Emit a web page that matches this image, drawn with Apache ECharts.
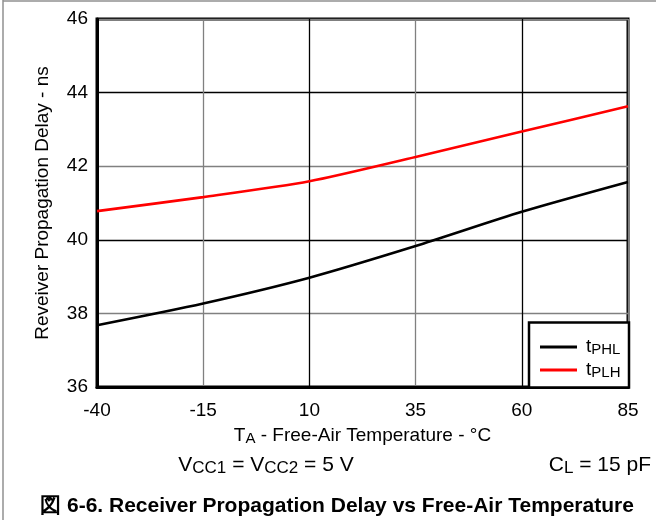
<!DOCTYPE html>
<html>
<head>
<meta charset="utf-8">
<script src="https://cdn.jsdelivr.net/npm/echarts@6/dist/echarts.min.js"></script>
<style>html,body{margin:0;padding:0;background:#fff}#c{width:656px;height:520px}</style>
</head>
<body>
<div id="c"></div>
<script>
const temps = ['-40', '-15', '10', '35', '60', '85'];
const tPHL = [37.68, 38.27, 38.97, 39.83, 40.76, 41.57];
const tPLH = [40.78, 41.16, 41.59, 42.25, 42.94, 43.63];
const yTicks = { min: 36, max: 46, step: 2 };
const seriesNames = ['tPHL', 'tPLH'];

const FONT = '"Liberation Sans", Arial, sans-serif';
const chart = echarts.init(document.getElementById('c'), null, { renderer: 'canvas' });
function subRich(main, small, drop) {
  return {
    a: { fontSize: main, fontFamily: FONT, color: '#000', verticalAlign: 'top', lineHeight: main + 1 },
    b: { fontSize: small, fontFamily: FONT, color: '#000', verticalAlign: 'bottom', lineHeight: small + 1, padding: [drop, 0, 0, 0] }
  };
}
chart.setOption({
  animation: false,
  backgroundColor: '#fff',
  grid: { left: 97, top: 19, width: 531, height: 368, show: true, borderColor: '#000', borderWidth: 3, containLabel: false },
  legend: {
    orient: 'vertical', left: 535, top: 329, itemWidth: 37, itemHeight: 3, itemGap: 0,
    icon: 'rect',
    data: seriesNames,
    formatter: n => '{a|t}{b|' + n.slice(1) + '}',
    textStyle: { rich: subRich(19, 15, 8), padding: [0, 0, 0, 4] }
  },
  xAxis: {
    type: 'category', data: temps, boundaryGap: false,
    name: '{a|T}{b|A}{a| - Free-Air Temperature - °C}', nameLocation: 'middle', nameGap: 35,
    nameTextStyle: { rich: subRich(19, 15, 6) },
    axisLine: { show: true, lineStyle: { color: '#000', width: 3 } },
    axisTick: { show: false },
    axisLabel: { interval: 0, margin: 14, fontSize: 19, fontFamily: FONT, color: '#000' },
    splitLine: { show: true, interval: 0, lineStyle: { color: ['#000', '#808080'], width: 1.3 } }
  },
  yAxis: {
    type: 'value', min: yTicks.min, max: yTicks.max, interval: yTicks.step,
    name: 'Reveiver Propagation Delay - ns', nameLocation: 'middle', nameGap: 45,
    nameTextStyle: { fontSize: 19, fontFamily: FONT, color: '#000' },
    axisLine: { show: true, lineStyle: { color: '#000', width: 3 } },
    axisTick: { show: false },
    axisLabel: { margin: 9, fontSize: 19, fontFamily: FONT, color: '#000' },
    splitLine: { show: true, lineStyle: { color: ['#000', '#808080'], width: 1.3 } }
  },
  series: [
    { name: seriesNames[0], type: 'line', data: tPHL, smooth: 0.25, showSymbol: false, lineStyle: { color: '#000', width: 2.6 }, itemStyle: { color: '#000' }, z: 3 },
    { name: seriesNames[1], type: 'line', data: tPLH, smooth: 0.25, showSymbol: false, lineStyle: { color: '#ff0000', width: 2.6 }, itemStyle: { color: '#ff0000' }, z: 3 }
  ],
  graphic: [
    { type: 'line', shape: { x1: 3, y1: 0, x2: 3, y2: 520 }, style: { stroke: '#909090', lineWidth: 1.5 } },
    { type: 'line', shape: { x1: 3, y1: 1, x2: 656, y2: 1 }, style: { stroke: '#909090', lineWidth: 1.5 } },
    { type: 'rect', shape: { x: 529, y: 322.5, width: 100, height: 65 }, style: { fill: '#fff', stroke: '#000', lineWidth: 2.5 }, z: 4 },
    { type: 'text', x: 266, y: 466, z: 10, style: { text: '{a|V}{b|CC1}{a| = V}{b|CC2}{a| = 5 V}', rich: subRich(21, 17, 10), align: 'center', verticalAlign: 'middle' } },
    { type: 'text', x: 651, y: 466, z: 10, style: { text: '{a|C}{b|L}{a| = 15 pF}', rich: subRich(21, 17, 10), align: 'right', verticalAlign: 'middle' } },
    { type: 'text', x: 337, y: 506, z: 10, style: { text: '図 6-6. Receiver Propagation Delay vs Free-Air Temperature', font: 'bold 21px ' + FONT, fill: '#000', align: 'center', verticalAlign: 'middle' } }
  ]
});
</script>
</body>
</html>
